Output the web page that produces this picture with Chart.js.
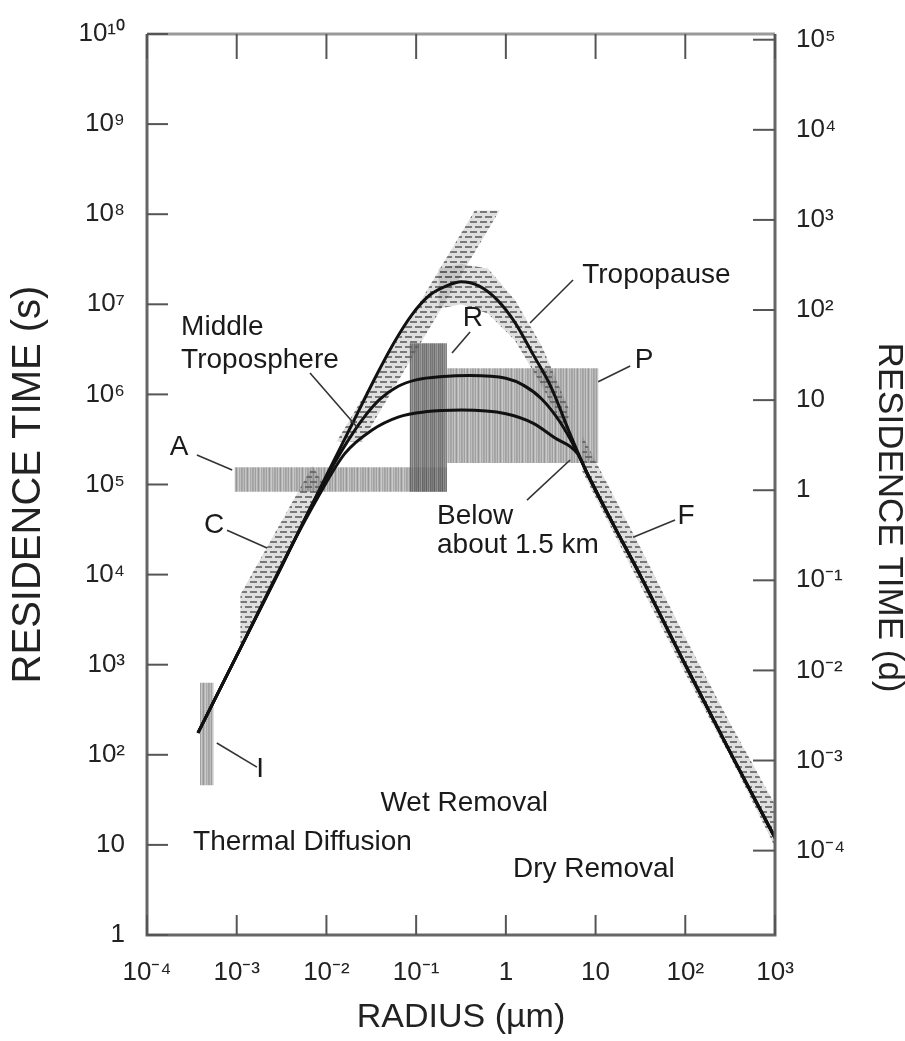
<!DOCTYPE html>
<html>
<head>
<meta charset="utf-8">
<script src="https://cdn.jsdelivr.net/npm/chart.js@4.4.1/dist/chart.umd.min.js"></script>
<style>
  html, body { margin: 0; padding: 0; background: #ffffff; }
  #wrap { width: 905px; height: 1041px; position: relative; }
</style>
</head>
<body>
<div id="wrap"><canvas id="c" width="905" height="1041"></canvas></div>
<script>
// ---------------- tick values / labels ----------------
const xTickValues = [1e-4, 1e-3, 1e-2, 1e-1, 1, 10, 100, 1000];
const xTickLabels = ['10⁻⁴', '10⁻³', '10⁻²', '10⁻¹', '1', '10', '10²', '10³'];
const yTickValues = [1, 10, 1e2, 1e3, 1e4, 1e5, 1e6, 1e7, 1e8, 1e9, 1e10];
const yTickLabels = ['1', '10', '10²', '10³', '10⁴', '10⁵', '10⁶', '10⁷', '10⁸', '10⁹', '10¹⁰'];
const dayTickValues = [1e-4, 1e-3, 1e-2, 1e-1, 1, 10, 1e2, 1e3, 1e4, 1e5];
const dayTickLabels = ['10⁻⁴', '10⁻³', '10⁻²', '10⁻¹', '1', '10', '10²', '10³', '10⁴', '10⁵'];
const SECONDS_PER_DAY = 86400;

// ---------------- curves: radius (µm) / residence time (s) ----------------
const tropopauseRadius = [3.7e-4, 1e-3, 3.2e-3, 0.01, 0.02, 0.0355, 0.0562, 0.0891, 0.141, 0.224, 0.316, 0.5, 0.8, 1.26, 2.0, 3.2, 5.0, 8.0, 16, 32, 100, 316, 1000];
const tropopauseTime   = [175, 1260, 1.26e4, 1.26e5, 5.0e5, 1.58e6, 3.7e6, 7.6e6, 1.26e7, 1.62e7, 1.78e7, 1.6e7, 1.12e7, 6.3e6, 2.8e6, 1.2e6, 4.0e5, 1.35e5, 3.5e4, 9.5e3, 1.0e3, 107, 12];

const middleRadius = [3.7e-4, 1e-3, 3.2e-3, 6.31e-3, 0.01, 0.0158, 0.0251, 0.0398, 0.0631, 0.1, 0.2, 0.398, 1.0, 1.58, 2.51, 3.98, 6.31, 8.0, 16, 32, 100, 316, 1000];
const middleTime   = [175, 1260, 1.26e4, 5.0e4, 1.2e5, 2.63e5, 5.25e5, 8.9e5, 1.23e6, 1.45e6, 1.58e6, 1.62e6, 1.51e6, 1.26e6, 8.9e5, 5.0e5, 2.24e5, 1.35e5, 3.5e4, 9.5e3, 1.0e3, 107, 12];

const lowRadius = [3.7e-4, 1e-3, 4e-3, 7.9e-3, 0.016, 0.032, 0.063, 0.126, 0.32, 1.0, 2.0, 3.5, 6.3, 8.0, 16, 32, 100, 316, 1000];
const lowTime   = [175, 1260, 2.0e4, 7.0e4, 2.2e5, 4.0e5, 5.6e5, 6.4e5, 6.7e5, 6.1e5, 4.8e5, 3.3e5, 2.2e5, 1.35e5, 3.5e4, 9.5e3, 1.0e3, 107, 12];

// ---------------- shaded data regions (polygon vertices) ----------------
const regionI_r = [3.9e-4, 5.5e-4, 5.5e-4, 3.9e-4];
const regionI_t = [46, 46, 630, 630];
const regionA_r = [9.5e-4, 0.22, 0.22, 9.5e-4];
const regionA_t = [8.3e4, 8.3e4, 1.55e5, 1.55e5];
const regionR_r = [0.085, 0.22, 0.22, 0.085];
const regionR_t = [8.3e4, 8.3e4, 3.7e6, 3.7e6];
const regionP_r = [0.22, 10.7, 10.7, 0.22];
const regionP_t = [1.73e5, 1.73e5, 1.95e6, 1.95e6];
const regionC_r = [1.1e-3, 9e-3, 7e-3, 1.1e-3];
const regionC_t = [1.5e3, 1.05e5, 1.6e5, 6e3];
const regionM_r = [0.013, 0.45, 0.85, 0.025];
const regionM_t = [3.0e5, 1.1e8, 1.1e8, 3.0e5];
const regionT_r = [0.178, 0.316, 0.63, 1.26, 2.5, 5.0, 5.0, 2.5, 1.26, 0.63, 0.316, 0.178];
const regionT_t = [2.5e7, 2.8e7, 2.5e7, 1.12e7, 3.5e6, 7.0e5, 3.2e5, 1.26e6, 4.0e6, 7.9e6, 1.0e7, 8.9e6];
const regionF_r = [7.1, 31.6, 100, 316, 1000, 1000, 316, 100, 31.6, 7.1];
const regionF_t = [3.5e5, 2.0e4, 2.0e3, 224, 28, 9.5, 95, 800, 7.6e3, 1.4e5];

// ---------------- annotation texts and leader lines ----------------
const annotationTexts = ['Middle', 'Troposphere', 'Tropopause', 'R', 'P', 'A', 'C', 'Below', 'about 1.5 km', 'F', 'I', 'Wet Removal', 'Thermal Diffusion', 'Dry Removal'];
const annotationRadius = [2.4e-4, 2.4e-4, 7.1, 0.43, 34.7, 2.28e-4, 5.6e-4, 0.171, 0.171, 102, 1.82e-3, 0.04, 3.26e-4, 1.2];
const annotationTime   = [5.6e6, 2.4e6, 2.1e7, 7.0e6, 2.4e6, 2.6e5, 3.5e4, 4.4e4, 2.1e4, 4.4e4, 69, 29, 10.7, 5.3];
const annotationAlign  = ['left', 'left', 'left', 'center', 'center', 'center', 'center', 'left', 'left', 'center', 'center', 'left', 'left', 'left'];

const leaderFromR = [6.56e-3, 0.399, 5.6, 24.3, 3.6e-4, 7.8e-4, 1.72, 76.9, 6.0e-4];
const leaderFromT = [1.73e6, 4.93e6, 1.86e7, 2.07e6, 2.13e5, 3.1e4, 6.7e4, 4.04e4, 135];
const leaderToR   = [0.0219, 0.251, 1.86, 10.7, 8.9e-4, 2.18e-3, 5.2, 26.2, 1.68e-3];
const leaderToT   = [4.35e5, 2.88e6, 6.2e6, 1.38e6, 1.45e5, 1.97e4, 1.87e5, 2.6e4, 73];

const rightAxisTitle = 'RESIDENCE TIME (d)';

// ---------------- helpers ----------------
const FONT = '"Liberation Sans", Arial, Helvetica, sans-serif';
const canvas = document.getElementById('c');
const mainCtx = canvas.getContext('2d');

function pts(rs, ts) { return rs.map((r, i) => ({ x: r, y: ts[i] })); }

function streakPattern(grays, alpha) {
  const t = document.createElement('canvas');
  t.width = grays.length; t.height = 4;
  const g = t.getContext('2d');
  grays.forEach((v, i) => { g.fillStyle = `rgba(${v},${v},${v},${alpha})`; g.fillRect(i, 0, 1, 4); });
  return mainCtx.createPattern(t, 'repeat');
}
function hatchPattern(gray, alpha) {
  const t = document.createElement('canvas');
  t.width = 10; t.height = 10;
  const g = t.getContext('2d');
  g.fillStyle = `rgba(${gray},${gray},${gray},${alpha})`;
  g.fillRect(0, 1, 7, 2);
  g.fillRect(5, 6, 7, 2);
  g.fillRect(-5, 6, 7, 2);
  g.fillStyle = `rgba(${gray},${gray},${gray},${alpha * 0.25})`;
  g.fillRect(0, 0, 10, 10);
  return mainCtx.createPattern(t, 'repeat');
}

const boxPattern  = streakPattern([150, 172, 138, 185, 160, 128, 168, 190, 150, 176, 142], 0.82);
const darkPattern = streakPattern([95, 120, 85, 130, 105, 140, 90, 115], 0.85);
const hatch       = hatchPattern(95, 0.8);

function curve(label, rs, ts) {
  return { label, data: pts(rs, ts), borderColor: '#111', borderWidth: 3, pointRadius: 0,
           fill: false, cubicInterpolationMode: 'monotone', order: 1 };
}
function region(label, rs, ts, bg, order) {
  return { label, data: pts(rs, ts), borderWidth: 0, borderColor: 'rgba(0,0,0,0)', pointRadius: 0,
           backgroundColor: bg, fill: 'shape', tension: 0, order };
}

function tickLabel(values, labels) {
  return v => { const i = values.indexOf(v); return i < 0 ? '' : labels[i]; };
}

// ---------------- overlay: frame, inward ticks, annotations ----------------
const overlayPlugin = {
  id: 'overlay',
  afterDraw(chart) {
    const { ctx, chartArea: a, scales } = chart;
    const x = scales.x, y = scales.y, y2 = scales.y2;
    ctx.save();
    // leader lines
    ctx.strokeStyle = '#333'; ctx.lineWidth = 1.6;
    leaderFromR.forEach((r, i) => {
      ctx.beginPath();
      ctx.moveTo(x.getPixelForValue(r), y.getPixelForValue(leaderFromT[i]));
      ctx.lineTo(x.getPixelForValue(leaderToR[i]), y.getPixelForValue(leaderToT[i]));
      ctx.stroke();
    });
    // texts
    ctx.fillStyle = '#1a1a1a';
    ctx.font = '28px ' + FONT;
    ctx.textBaseline = 'middle';
    annotationTexts.forEach((txt, i) => {
      ctx.textAlign = annotationAlign[i];
      ctx.fillText(txt, x.getPixelForValue(annotationRadius[i]), y.getPixelForValue(annotationTime[i]));
    });
    // right axis title (days), read top to bottom
    ctx.save();
    ctx.translate(y2.right - 16, (a.top + a.bottom) / 2 + 33);
    ctx.rotate(Math.PI / 2);
    ctx.font = '35px ' + FONT;
    ctx.fillStyle = '#222';
    ctx.textAlign = 'center';
    ctx.textBaseline = 'middle';
    ctx.fillText(rightAxisTitle, 0, 0);
    ctx.restore();
    // frame
    ctx.lineCap = 'butt';
    ctx.strokeStyle = '#9a9a9a'; ctx.lineWidth = 3;
    ctx.beginPath(); ctx.moveTo(a.left, a.top); ctx.lineTo(a.right, a.top); ctx.stroke();
    ctx.strokeStyle = '#666';
    ctx.beginPath(); ctx.moveTo(a.left, a.top); ctx.lineTo(a.left, a.bottom); ctx.lineTo(a.right, a.bottom); ctx.lineTo(a.right, a.top); ctx.stroke();
    // inward ticks
    ctx.strokeStyle = '#555'; ctx.lineWidth = 2;
    xTickValues.forEach(v => {
      const px = x.getPixelForValue(v);
      ctx.beginPath(); ctx.moveTo(px, a.bottom); ctx.lineTo(px, a.bottom - 20); ctx.stroke();
      ctx.beginPath(); ctx.moveTo(px, a.top); ctx.lineTo(px, a.top + 25); ctx.stroke();
    });
    yTickValues.forEach(v => {
      const py = y.getPixelForValue(v);
      ctx.beginPath(); ctx.moveTo(a.left, py); ctx.lineTo(a.left + 21, py); ctx.stroke();
    });
    dayTickValues.forEach(v => {
      const py = y2.getPixelForValue(v);
      ctx.beginPath(); ctx.moveTo(a.right, py); ctx.lineTo(a.right - 22, py); ctx.stroke();
    });
    ctx.restore();
  }
};

// ---------------- chart ----------------
const tickFont = { family: FONT, size: 26 };

new Chart(canvas, {
  type: 'line',
  data: {
    datasets: [
      curve('Tropopause', tropopauseRadius, tropopauseTime),
      curve('Middle Troposphere', middleRadius, middleTime),
      curve('Below about 1.5 km', lowRadius, lowTime),
      region('C', regionC_r, regionC_t, hatch, 3),
      region('Middle troposphere data', regionM_r, regionM_t, hatch, 3),
      region('Tropopause data', regionT_r, regionT_t, hatch, 3),
      region('F', regionF_r, regionF_t, hatch, 3),
      region('R', regionR_r, regionR_t, darkPattern, 4),
      region('P', regionP_r, regionP_t, boxPattern, 5),
      region('A', regionA_r, regionA_t, boxPattern, 5),
      region('I', regionI_r, regionI_t, boxPattern, 5)
    ]
  },
  options: {
    responsive: false,
    animation: false,
    events: [],
    layout: { padding: { top: 34, left: 0, right: 0, bottom: 0 } },
    plugins: { legend: { display: false }, tooltip: { enabled: false }, title: { display: false } },
    scales: {
      x: {
        type: 'logarithmic', position: 'bottom', min: 1e-4, max: 1e3, bounds: 'data',
        grid: { display: false }, border: { display: false },
        afterBuildTicks: s => { s.ticks = xTickValues.map(v => ({ value: v })); },
        afterFit: s => { s.height = 106; },
        ticks: { autoSkip: false, maxRotation: 0, minRotation: 0, padding: 14, color: '#222', font: tickFont,
                 callback: tickLabel(xTickValues, xTickLabels) },
        title: { display: true, text: 'RADIUS (µm)', color: '#222', font: { family: FONT, size: 34, lineHeight: 1.2 },
                 padding: { top: 0, bottom: 3 } }
      },
      y: {
        type: 'logarithmic', position: 'left', min: 1, max: 1e10, bounds: 'data',
        grid: { display: false }, border: { display: false },
        afterBuildTicks: s => { s.ticks = yTickValues.map(v => ({ value: v })); },
        afterFit: s => { s.width = 147; },
        ticks: { autoSkip: false, padding: 14, color: '#222', font: tickFont,
                 callback: tickLabel(yTickValues, yTickLabels) },
        title: { display: true, text: 'RESIDENCE TIME (s)', color: '#222', font: { family: FONT, size: 40, lineHeight: 1.2 },
                 padding: { top: 5, bottom: 0 } }
      },
      y2: {
        type: 'logarithmic', position: 'right', min: 1 / SECONDS_PER_DAY, max: 1e10 / SECONDS_PER_DAY, bounds: 'data',
        grid: { display: false }, border: { display: false },
        afterBuildTicks: s => { s.ticks = dayTickValues.map(v => ({ value: v })); },
        afterFit: s => { s.width = 130; },
        ticks: { autoSkip: false, padding: 13, color: '#222', font: tickFont,
                 callback: tickLabel(dayTickValues, dayTickLabels) },
        title: { display: false }
      }
    }
  },
  plugins: [overlayPlugin]
});
</script>
</body>
</html>
